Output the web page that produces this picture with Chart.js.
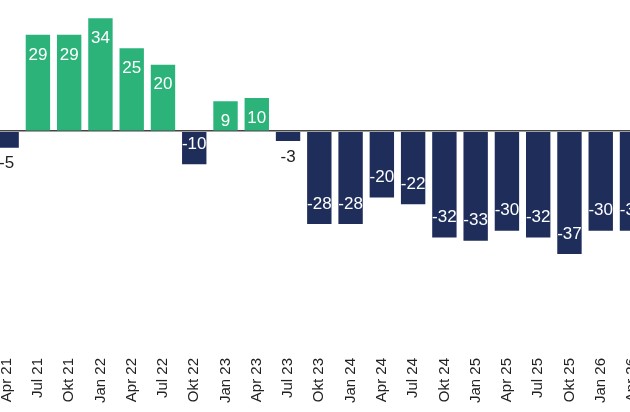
<!DOCTYPE html>
<html><head><meta charset="utf-8">
<script src="https://cdn.jsdelivr.net/npm/chart.js@4"></script>
<style>
html,body{margin:0;padding:0;overflow:hidden;background:#fff;width:630px;height:412px}
#wrap{position:absolute;left:-9px;top:0;width:662px;height:412px}
</style></head><body>
<div id="wrap"><canvas id="c"></canvas></div>
<script>
const labels = ['Apr 21','Jul 21','Okt 21','Jan 22','Apr 22','Jul 22','Okt 22','Jan 23','Apr 23','Jul 23','Okt 23','Jan 24','Apr 24','Jul 24','Okt 24','Jan 25','Apr 25','Jul 25','Okt 25','Jan 26','Apr 26'];
const values = [-5,29,29,34,25,20,-10,9,10,-3,-28,-28,-20,-22,-32,-33,-30,-32,-37,-30,-30];
const green = '#2bb37a', navy = '#1f2d5b';

const valueLabels = {
    id: 'valueLabels',
    afterDatasetsDraw(chart) {
        const ctx = chart.ctx;
        const meta = chart.getDatasetMeta(0);
        ctx.save();
        ctx.font = '17px "Liberation Sans", Arial, sans-serif';
        ctx.textAlign = 'center';
        ctx.textBaseline = 'middle';
        meta.data.forEach((bar, i) => {
            const v = values[i];
            let y;
            if (Math.abs(v) <= 5) {
                ctx.fillStyle = '#222';
                y = bar.y + (v < 0 ? 16 : -16);
            } else {
                ctx.fillStyle = '#fff';
                y = bar.y + (v < 0 ? -20 : 20);
            }
            ctx.fillText(String(v), bar.x, y);
        });
        ctx.restore();
    }
};

new Chart(document.getElementById('c'), {
    type: 'bar',
    data: {
        labels: labels,
        datasets: [{
            data: values,
            backgroundColor: values.map(v => v >= 0 ? green : navy),
            categoryPercentage: 1,
            barPercentage: 0.78
        }]
    },
    options: {
        responsive: true,
        maintainAspectRatio: false,
        animation: false,
        layout: { padding: { bottom: 6 } },
        plugins: { legend: { display: false }, tooltip: { enabled: false } },
        scales: {
            x: {
                grid: { display: false },
                border: { display: false },
                ticks: {
                    minRotation: 90, maxRotation: 90, color: '#222',
                    font: { size: 15, family: '"Liberation Sans", Arial, sans-serif' }
                }
            },
            y: {
                display: true,
                min: -65, max: 39.5,
                ticks: { display: false },
                border: { display: false },
                grid: {
                    drawTicks: false,
                    color: ctx => ctx.tick.value === 0 ? '#444' : 'transparent',
                    lineWidth: 1.5
                },
                afterBuildTicks: axis => { axis.ticks = [{ value: 0 }]; }
            }
        }
    },
    plugins: [valueLabels]
});
</script>
</body></html>
